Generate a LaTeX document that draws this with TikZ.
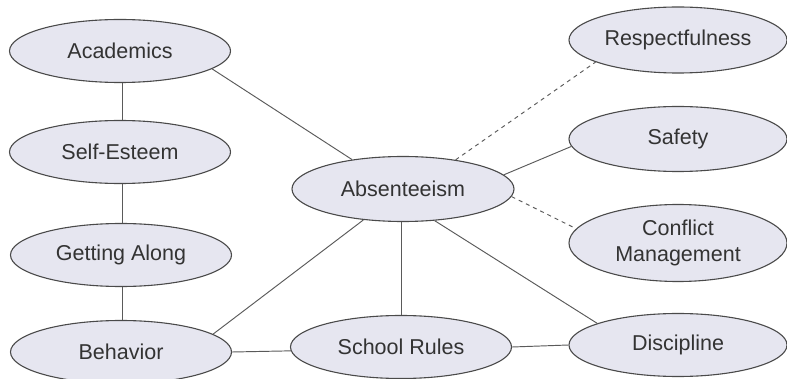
\documentclass[tikz,border=0pt]{standalone}
\usepackage{fontspec}
\setmainfont{Liberation Sans}
\usetikzlibrary{shapes.geometric}
\definecolor{ellfill}{HTML}{E6E6F0}
\definecolor{ellline}{HTML}{4A4A4A}
\definecolor{txt}{HTML}{333333}
\definecolor{conn}{HTML}{5A5A5A}
\begin{document}
\begin{tikzpicture}[x=1pt,y=-1pt,
  bubble/.style={ellipse, draw=ellline, fill=ellfill, line width=1.1pt,
    minimum width=221pt, minimum height=63pt, inner sep=0pt,
    text=txt, align=center,
    font=\fontsize{21.5}{26}\selectfont},
  link/.style={draw=conn, line width=0.95pt},
  dlink/.style={draw=conn, line width=0.95pt, dash pattern=on 4pt off 4pt}]
\useasboundingbox (0,0) rectangle (787,379);
\node[bubble] (acad) at (120,51) {Academics};
\node[bubble] (self) at (120,152) {Self-Esteem};
\node[bubble] (get) at (121,255) {Getting Along};
\node[bubble] (beh) at (121,352) {Behavior};
\node[bubble, minimum width=222pt, minimum height=65pt] (abs) at (403,189) {Absenteeism};
\node[bubble] (rules) at (401,347) {School Rules};
\node[bubble, minimum width=218pt] (disc) at (678,345) {Discipline};
\node[bubble, minimum width=218pt, minimum height=66pt] (resp) at (678,40) {Respectfulness};
\node[bubble, minimum width=218pt, minimum height=65pt] (safe) at (678,139) {Safety};
\node[bubble, minimum width=218pt, minimum height=77pt] (conf) at (678,243) {Conflict\\Management};
\draw[link] ([xshift=2.5pt]acad.south) -- ([xshift=2.5pt]self.north);
\draw[link] ([xshift=2.5pt]self.south) -- ([xshift=1.5pt]get.north);
\draw[link] ([xshift=1.5pt]get.south) -- ([xshift=1.5pt]beh.north);
\draw[link] (acad.-11.5) -- (abs.150);
\draw[link] (beh.11.4) -- (abs.218);
\draw[link] (beh.0) -- (rules.182);
\draw[link] (rules.0) -- (disc.180);
\draw[link] ([xshift=-2pt]abs.south) -- (rules.north);
\draw[link] (abs.-45) -- (disc.165.6);
\draw[link] (abs.8.7) -- (safe.184.9);
\draw[dlink] (abs.29.4) -- (resp.195.7);
\draw[dlink] (abs.-4.9) -- (conf.172.7);
\end{tikzpicture}
\end{document}
